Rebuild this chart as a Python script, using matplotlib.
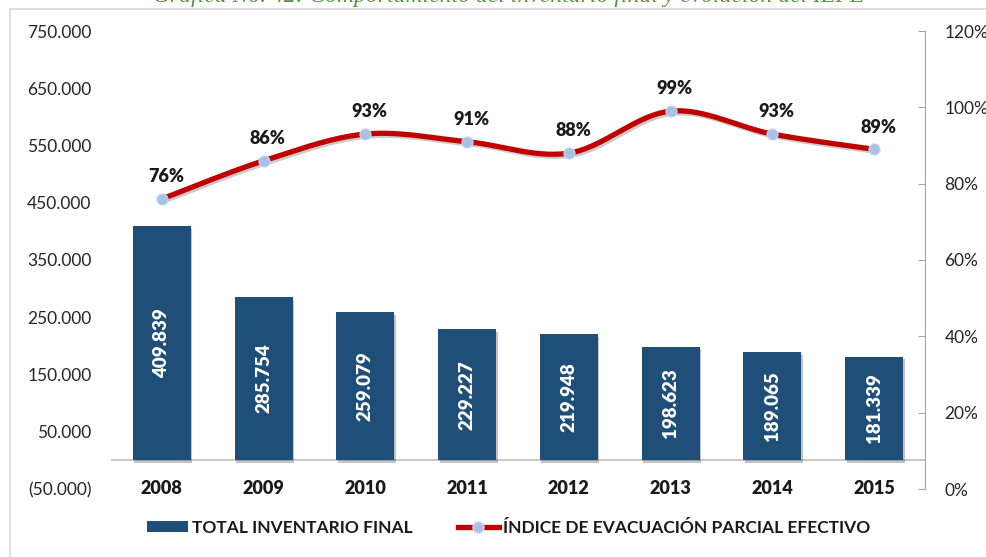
import numpy as np
import matplotlib
matplotlib.use("Agg")
from matplotlib import pyplot as plt
from matplotlib import patheffects as pe
from matplotlib.patches import Rectangle, Patch
from matplotlib.lines import Line2D
from matplotlib.ticker import FuncFormatter

plt.rcParams['font.family'] = ['Lato', 'DejaVu Sans']

# datos
anios = ['2008', '2009', '2010', '2011', '2012', '2013', '2014', '2015']
inventario = [409839, 285754, 259079, 229227, 219948, 198623, 189065, 181339]
iepe = [0.76, 0.86, 0.93, 0.91, 0.88, 0.99, 0.93, 0.89]

titulo = "Gráfica No. 42: Comportamiento del inventario final y evolución del IEPE"
serie_barras = "TOTAL INVENTARIO FINAL"
serie_linea = "ÍNDICE DE EVACUACIÓN PARCIAL EFECTIVO"

AZUL = '#1F4E79'
ROJO = '#C00000'
MARCA = '#A7C2E6'
GRIS = '#A6A6A6'


def suavizar(xs, ys, n=30):
    """Curva Catmull-Rom (como la linea suavizada de Excel) que pasa por los puntos"""
    p = np.column_stack([xs, ys]).astype(float)
    p = np.vstack([p[0], p, p[-1]])
    out = []
    t = np.linspace(0, 1, n)[:, None]
    for i in range(1, len(p) - 2):
        p0, p1, p2, p3 = p[i - 1], p[i], p[i + 1], p[i + 2]
        c1 = p1 + (p2 - p0) / 6
        c2 = p2 - (p3 - p1) / 6
        seg = ((1 - t) ** 3) * p1 + 3 * ((1 - t) ** 2) * t * c1 + 3 * (1 - t) * t ** 2 * c2 + t ** 3 * p2
        out.append(seg)
    out = np.vstack(out)
    return out[:, 0], out[:, 1]


W, H = 987, 557
fig = plt.figure(figsize=(W / 100, H / 100), dpi=100)

# marco del grafico y titulo (cortado arriba, como en el original)
fig.patches.append(Rectangle((10 / W, -0.1), 1.2, (H - 9) / H + 0.1, transform=fig.transFigure,
                             fill=False, edgecolor='#D9D9D9', linewidth=1.2))
fig.text(0.515, (H - 2) / H, titulo, ha='center', va='baseline', fontsize=17,
         family='Liberation Serif', style='italic', color='#5A9440')

ax = fig.add_axes([111 / W, (H - 489) / H, (925 - 111) / W, (489 - 31) / H])
x = np.arange(len(anios))

barras = ax.bar(x, inventario, width=0.57, color=AZUL, zorder=2,
                path_effects=[pe.SimplePatchShadow(offset=(1, -2), alpha=0.25), pe.Normal()])
ax.set_ylim(-50000, 750000)
ax.set_xlim(-0.5, len(anios) - 0.5)
ax.set_yticks(np.arange(-50000, 750001, 100000))
ax.yaxis.set_major_formatter(FuncFormatter(
    lambda v, p: ('({:,.0f})'.format(-v) if v < 0 else '{:,.0f}'.format(v)).replace(',', '.')))
ax.tick_params(axis='y', length=0, pad=14, labelsize=12.5, labelcolor='#262626')
ax.set_xticks([])
for s in ax.spines.values():
    s.set_visible(False)
ax.axhline(0, color='#BFBFBF', linewidth=1.2, zorder=1)

for xi, v in zip(x, inventario):
    ax.text(xi, v / 2, '{:,.0f}'.format(v).replace(',', '.'), rotation=90, ha='center', va='center',
            color='white', fontsize=13.5, fontweight='heavy', zorder=3)
for xi, a in zip(x, anios):
    ax.text(xi, -50000, a, ha='center', va='center', fontsize=13, fontweight='heavy', color='#1A1A1A')

ax2 = ax.twinx()
ax2.set_ylim(0, 1.2)
ax2.set_yticks(np.arange(0, 1.21, 0.2))
ax2.yaxis.set_major_formatter(FuncFormatter(lambda v, p: '{:.0f}%'.format(v * 100)))
for s in ['top', 'left', 'bottom']:
    ax2.spines[s].set_visible(False)
ax2.spines['right'].set_color(GRIS)
ax2.tick_params(axis='y', direction='in', length=5, color=GRIS, pad=14, labelsize=12.5,
                labelcolor='#262626')

xs, ys = suavizar(x, iepe)
ax2.plot(xs, ys, color=ROJO, linewidth=3.8, solid_capstyle='round', zorder=3,
         path_effects=[pe.SimpleLineShadow(offset=(1.5, -1.5), alpha=0.2), pe.Normal()])
ax2.plot(x, iepe, linestyle='none', marker='o', markersize=8, markerfacecolor=MARCA,
         markeredgecolor='#C5D6EE', markeredgewidth=0.8, zorder=4)
for xi, v in zip(x, iepe):
    ax2.annotate('{:.0f}%'.format(v * 100), (xi, v), xytext=(3, 16), textcoords='offset points',
                 ha='center', va='center', fontsize=13, fontweight='heavy', color='#1A1A1A')

manejadores = [Patch(facecolor=AZUL, edgecolor='none'),
               Line2D([], [], color=ROJO, linewidth=3.8, marker='o', markersize=8,
                      markerfacecolor=MARCA, markeredgecolor='#C5D6EE')]
fig.legend(manejadores, [serie_barras, serie_linea], loc='center', bbox_to_anchor=(0.515, 29 / H),
           ncol=2, frameon=False, handlelength=2.4, handleheight=0.6, handletextpad=0.2,
           columnspacing=2.6, prop={'size': 12.5, 'weight': 'bold'}, labelcolor='#1A1A1A')

fig.savefig('out.png', dpi=100)
